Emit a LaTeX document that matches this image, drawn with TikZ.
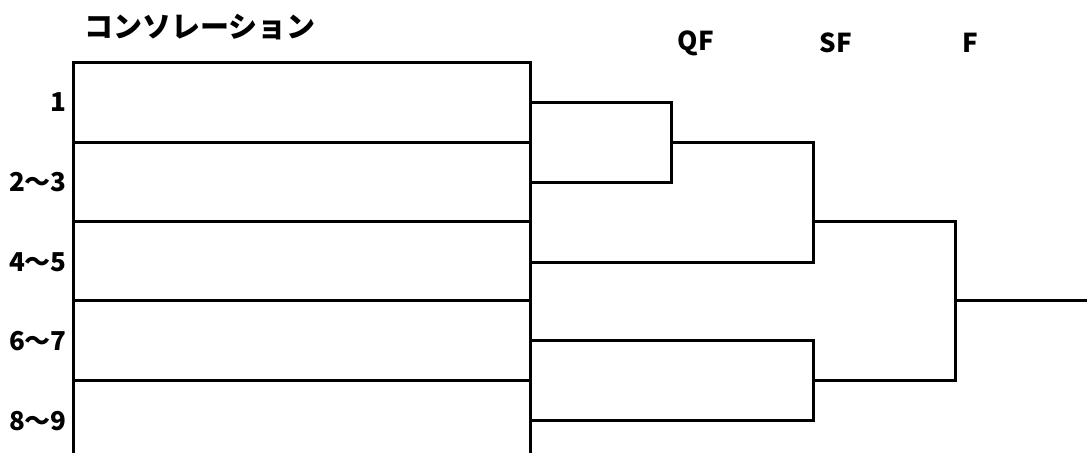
\documentclass[tikz,border=0pt]{standalone}
\usepackage{fontspec}
\setmainfont{Noto Sans CJK JP}
\usepackage{tikz}
\usetikzlibrary{positioning,calc}
\tikzset{
  bline/.style={draw=black, line width=3pt},
  seed/.style={anchor=east, inner sep=0pt, font=\fontsize{26}{30}\selectfont\bfseries},
  round/.style={inner sep=0pt, font=\fontsize{26}{30}\selectfont\bfseries},
  title/.style={anchor=west, inner sep=0pt, font=\fontsize{29}{33}\selectfont\bfseries}
}

\begin{document}
\begin{tikzpicture}[x=1pt, y=-1pt]
  \useasboundingbox (0,0) rectangle (1087,453);

  % headings
  \node[title] (cons) at (84,27) {コンソレーション};
  \node[round] (qf) at (696,43) {QF};
  \node[round] (sf) at (836,43) {SF};
  \node[round] (fi) at (970,43) {F};

  % seed labels
  \node[seed] (l1) at (67,102) {1};
  \node[seed] (l2) at (67,182) {2〜3};
  \node[seed] (l3) at (67,262) {4〜5};
  \node[seed] (l4) at (67,341) {6〜7};
  \node[seed] (l5) at (67,421) {8〜9};

  % consolation table
  \draw[bline] (73,453) -- (73,62) -- (530,62) -- (530,453);
  \foreach \y in {142,221,300,380}
    \draw[bline] (73,\y) -- (530,\y);

  % bracket points
  \coordinate (e1) at (530,102);
  \coordinate (e2) at (530,182);
  \coordinate (e3) at (530,262);
  \coordinate (e4) at (530,340);
  \coordinate (e5) at (530,420);
  \coordinate (q1) at (671,142);
  \coordinate (s1) at (813,221);
  \coordinate (s2) at (813,380);
  \coordinate (f1) at (955,300);
  \coordinate (win) at (1087,300);

  % quarter final
  \draw[bline] (e1) -| (q1);
  \draw[bline] (e2) -| (q1);
  % semi finals
  \draw[bline] (q1) -| (s1);
  \draw[bline] (e3) -| (s1);
  \draw[bline] (e4) -| (s2);
  \draw[bline] (e5) -| (s2);
  % final
  \draw[bline] (s1) -| (f1);
  \draw[bline] (s2) -| (f1);
  \draw[bline] (f1) -- (win);
\end{tikzpicture}
\end{document}
